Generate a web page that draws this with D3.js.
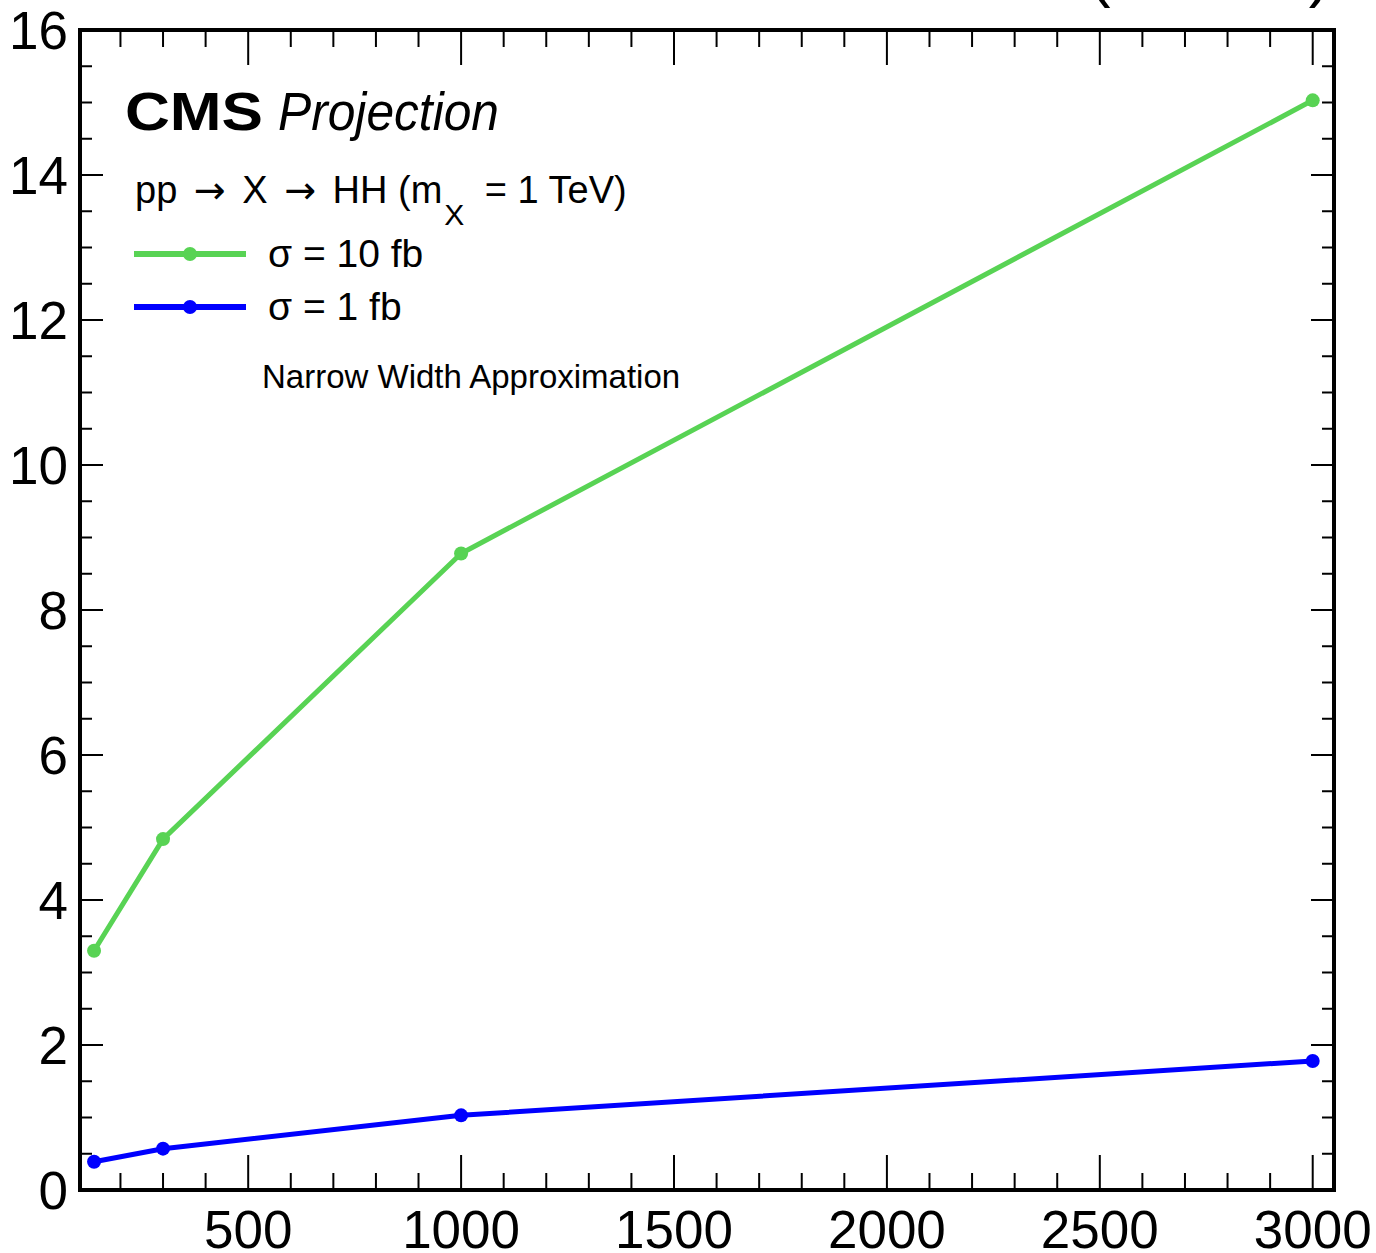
<!DOCTYPE html>
<html>
<head>
<meta charset="utf-8">
<script src="https://cdn.jsdelivr.net/npm/d3@7"></script>
<style>
  body { margin: 0; background: #fff; }
  text { font-family: "Liberation Sans", Arial, Helvetica, sans-serif; fill: #000; }
</style>
</head>
<body>
<svg id="svg"></svg>
<script>
// integrated luminosity points (fb^-1) and significance values
var lumi = [138, 300, 1000, 3000];
var sig10fb = [3.30, 4.84, 8.78, 15.03];
var sig1fb = [0.39, 0.57, 1.03, 1.78];

var xTicks = [500, 1000, 1500, 2000, 2500, 3000];
var yTicks = [0, 2, 4, 6, 8, 10, 12, 14, 16];

var series = [
    {label: "\u03c3 = 10 fb", values: sig10fb, color: "#58d354"},
    {label: "\u03c3 = 1 fb", values: sig1fb, color: "#0000ff"}
];

//////////////////////////////////////////////////////////////////////////////

var width = 1376, height = 1253;
var frame = {x1: 80, x2: 1334, y1: 30, y2: 1190};

var svg = d3.select("#svg")
    .attr("width", width)
    .attr("height", height);

var x = d3.scaleLinear().domain([105, 3050]).range([frame.x1, frame.x2]);
var y = d3.scaleLinear().domain([0, 16]).range([frame.y2, frame.y1]);

// minor ticks every 100 on x, every 0.5 on y
var xMinor = d3.range(200, 3050, 100).filter(function(v) { return v % 500 !== 0; });
var yMinor = d3.range(0, 16.01, 0.5).filter(function(v) { return v % 2 !== 0; });

var ticks = svg.append("g").attr("stroke", "#000").attr("stroke-width", 2);

function tickLines(vals, len, axis) {
    vals.forEach(function(v) {
        if (axis === "x") {
            ticks.append("line").attr("x1", x(v)).attr("x2", x(v))
                .attr("y1", frame.y2).attr("y2", frame.y2 - len);
            ticks.append("line").attr("x1", x(v)).attr("x2", x(v))
                .attr("y1", frame.y1).attr("y2", frame.y1 + len);
        } else {
            ticks.append("line").attr("y1", y(v)).attr("y2", y(v))
                .attr("x1", frame.x1).attr("x2", frame.x1 + len);
            ticks.append("line").attr("y1", y(v)).attr("y2", y(v))
                .attr("x1", frame.x2).attr("x2", frame.x2 - len);
        }
    });
}
tickLines(xTicks, 35, "x");
tickLines(xMinor, 17, "x");
tickLines(yTicks, 23, "y");
tickLines(yMinor, 12, "y");

// tick labels
svg.append("g").selectAll("text").data(xTicks).enter().append("text")
    .attr("x", function(d) { return x(d); })
    .attr("y", frame.y2 + 58)
    .attr("text-anchor", "middle")
    .attr("font-size", 53)
    .text(function(d) { return d; });

svg.append("g").selectAll("text").data(yTicks).enter().append("text")
    .attr("x", 68)
    .attr("y", function(d) { return y(d) + 19; })
    .attr("text-anchor", "end")
    .attr("font-size", 53)
    .text(function(d) { return d; });

// frame
svg.append("rect")
    .attr("x", frame.x1).attr("y", frame.y1)
    .attr("width", frame.x2 - frame.x1).attr("height", frame.y2 - frame.y1)
    .attr("fill", "none").attr("stroke", "#000").attr("stroke-width", 4);

// curves
var line = d3.line()
    .x(function(d, i) { return x(lumi[i]); })
    .y(function(d) { return y(d); });

series.forEach(function(s) {
    var g = svg.append("g");
    g.append("path")
        .attr("d", line(s.values))
        .attr("fill", "none")
        .attr("stroke", s.color)
        .attr("stroke-width", 5)
        .attr("stroke-linejoin", "round");
    g.selectAll("circle").data(s.values).enter().append("circle")
        .attr("cx", function(d, i) { return x(lumi[i]); })
        .attr("cy", function(d) { return y(d); })
        .attr("r", 7)
        .attr("fill", s.color);
});

// header texts (top one is mostly outside the page, as in the original)
svg.append("text")
    .attr("x", 1330).attr("y", -5)
    .attr("text-anchor", "end")
    .attr("font-size", 64)
    .text("(14 TeV)");

svg.append("text")
    .attr("x", 125).attr("y", 130)
    .attr("font-size", 54).attr("font-weight", "bold")
    .attr("textLength", 138).attr("lengthAdjust", "spacingAndGlyphs")
    .text("CMS");

svg.append("text")
    .attr("x", 278).attr("y", 130)
    .attr("font-size", 53).attr("font-style", "italic")
    .attr("textLength", 221).attr("lengthAdjust", "spacingAndGlyphs")
    .text("Projection");

var proc = svg.append("text")
    .attr("x", 135).attr("y", 203)
    .attr("font-size", 38);
proc.append("tspan").text("pp ");
proc.append("tspan").attr("font-family", "DejaVu Sans").attr("dx", 6).text("\u2192");
proc.append("tspan").attr("dx", 6).text(" X ");
proc.append("tspan").attr("font-family", "DejaVu Sans").attr("dx", 6).text("\u2192");
proc.append("tspan").attr("dx", 6).text(" HH (m");
proc.append("tspan").attr("font-size", 30).attr("dy", 22).attr("dx", 2).text("X");
proc.append("tspan").attr("dy", -22).attr("dx", 10).text(" = 1 TeV)");

// legend
var legY = [254, 307];
series.forEach(function(s, i) {
    svg.append("line")
        .attr("x1", 134).attr("x2", 246)
        .attr("y1", legY[i]).attr("y2", legY[i])
        .attr("stroke", s.color).attr("stroke-width", 6);
    svg.append("circle")
        .attr("cx", 190).attr("cy", legY[i]).attr("r", 7)
        .attr("fill", s.color);
    svg.append("text")
        .attr("x", 268).attr("y", legY[i] + 13)
        .attr("font-size", 39)
        .text(s.label);
});

svg.append("text")
    .attr("x", 262).attr("y", 388)
    .attr("font-size", 33)
    .text("Narrow Width Approximation");
</script>
</body>
</html>
